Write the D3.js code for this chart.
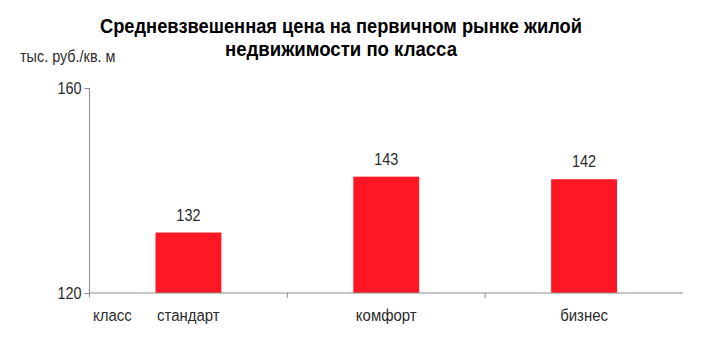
<!DOCTYPE html>
<html>
<head>
<meta charset="utf-8">
<script src="https://cdn.jsdelivr.net/npm/d3@7"></script>
<style>
  body { margin: 0; background: #fff; }
  svg text { font-family: "Liberation Sans Narrow", "Arial Narrow", "Liberation Sans", Arial, sans-serif; fill: #2b2b2b; }
</style>
</head>
<body>
<div id="chart"></div>
<script>
// chart data
const categories = ['стандарт', 'комфорт', 'бизнес'];
const prices = [131.8, 142.7, 142.2];
const yTicks = [120, 160];
const titleLines = ['Средневзвешенная цена на первичном рынке жилой', 'недвижимости по класса'];
const titleWidths = [482, 232];

const width = 718, height = 339;
const margin = { top: 88, right: 35, bottom: 46, left: 89.5 };

const svg = d3.select('#chart')
    .append('svg')
    .attr('width', width)
    .attr('height', height);

const x = d3.scaleBand()
    .domain(categories)
    .range([margin.left, width - margin.right])
    .paddingInner(0.667)
    .paddingOuter(0.3335);

const y = d3.scaleLinear()
    .domain([120, 160])
    .range([height - margin.bottom, margin.top]);

// squeeze text horizontally, the original uses a narrow face
function narrow(sel, k) {
    sel.each(function() {
        const t = d3.select(this);
        const tx = +t.attr('x'), ty = +t.attr('y');
        t.attr('transform', `translate(${tx},${ty}) scale(${k},1) translate(${-tx},${-ty})`);
    });
}

// bars
svg.append('g')
    .selectAll('rect')
    .data(prices)
    .join('rect')
    .attr('x', (d, i) => x(categories[i]))
    .attr('y', d => y(d))
    .attr('width', x.bandwidth())
    .attr('height', d => y(120) - y(d))
    .style('fill', '#ff1823');

// value labels
svg.append('g')
    .selectAll('text')
    .data(prices)
    .join('text')
    .attr('x', (d, i) => x(categories[i]) + x.bandwidth() / 2)
    .attr('y', d => y(d) - 12)
    .attr('text-anchor', 'middle')
    .style('font-size', '17px')
    .text(d => d3.format('.0f')(d))
    .call(narrow, 0.85);

// y axis
const yAxis = svg.append('g')
    .attr('transform', `translate(${margin.left},0)`)
    .call(d3.axisLeft(y).tickValues(yTicks).tickSize(5).tickPadding(5).tickSizeOuter(0));
yAxis.select('.domain').attr('stroke', '#8c8c8c').attr('d', `M0,${y(160)}V${y(120) + 4}`);
yAxis.selectAll('.tick line').attr('stroke', '#8c8c8c');
yAxis.selectAll('.tick text').style('font-size', '17px').attr('fill', '#2b2b2b')
    .attr('x', -8).attr('y', 0).attr('dy', '0.35em')
    .call(narrow, 0.85);

// x axis with boundary ticks between categories
const step = x.step();
const bounds = d3.range(categories.length + 1).map(i => margin.left + i * step);
svg.append('line')
    .attr('x1', margin.left).attr('x2', bounds[bounds.length - 1])
    .attr('y1', y(120)).attr('y2', y(120))
    .attr('stroke', '#8c8c8c');
svg.append('g')
    .selectAll('line')
    .data(bounds.slice(1, -1))
    .join('line')
    .attr('x1', d => d).attr('x2', d => d)
    .attr('y1', y(120)).attr('y2', y(120) + 5)
    .attr('stroke', '#8c8c8c');

svg.append('g')
    .selectAll('text')
    .data(categories)
    .join('text')
    .attr('x', d => x(d) + x.bandwidth() / 2)
    .attr('y', 321)
    .attr('text-anchor', 'middle')
    .style('font-size', '17px')
    .text(d => d)
    .call(narrow, 0.88);

svg.append('text')
    .attr('x', 93)
    .attr('y', 321)
    .style('font-size', '17px')
    .text('класс')
    .call(narrow, 0.88);

svg.append('text')
    .attr('x', 20)
    .attr('y', 62)
    .style('font-size', '16px')
    .text('тыс. руб./кв. м')
    .call(narrow, 0.9);

// title
svg.append('g')
    .selectAll('text')
    .data(titleLines)
    .join('text')
    .attr('x', 341)
    .attr('y', (d, i) => 33 + i * 22.5)
    .attr('text-anchor', 'middle')
    .attr('textLength', (d, i) => titleWidths[i])
    .attr('lengthAdjust', 'spacingAndGlyphs')
    .style('font-size', '19.5px')
    .style('font-weight', 'bold')
    .style('fill', '#000')
    .text(d => d);
</script>
</body>
</html>
